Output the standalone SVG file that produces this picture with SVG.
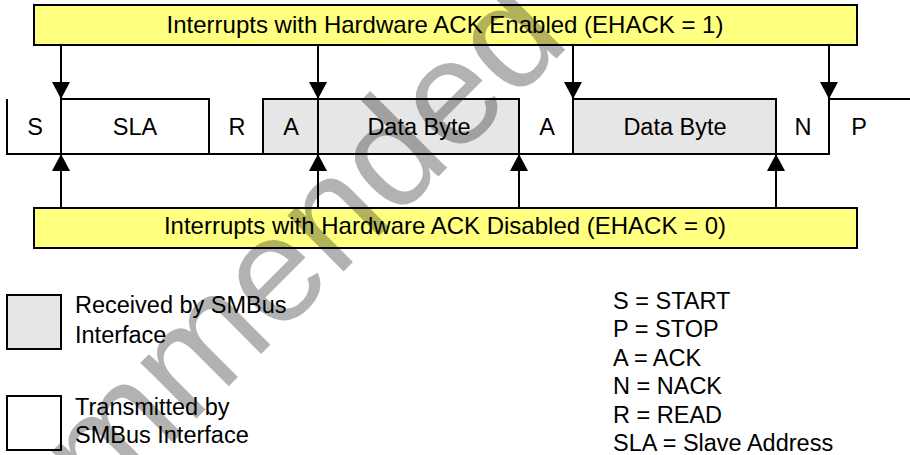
<svg xmlns="http://www.w3.org/2000/svg" width="910" height="455" viewBox="0 0 910 455">
<style>
.yb{fill:#ffff80;stroke:#000;stroke-width:2}
.ln{stroke:#000;stroke-width:2;fill:none}
.gr{fill:#e6e6e6}
.t{font-family:"Liberation Sans",Arial,sans-serif;fill:#000}
.f{font-size:23.5px;text-anchor:middle}
.h{font-size:24px;text-anchor:middle}
.l{font-size:23.5px}
.wm{font-family:"Liberation Sans",Arial,sans-serif;font-size:150px;fill:#000;fill-opacity:0.3}
</style>
<defs>
<marker id="ah" viewBox="0 0 17 18" refX="17" refY="9" markerWidth="17" markerHeight="18" markerUnits="userSpaceOnUse" orient="auto">
<path d="M0,0 L17,9 L0,18 Z" fill="#000"/>
</marker>
</defs>
<rect width="910" height="455" fill="#fff"/>
<g id="irq-enabled">
<rect class="yb" x="34" y="5" width="823" height="40"/>
<text class="t h" x="445" y="33">Interrupts with Hardware ACK Enabled (EHACK = 1)</text>
</g>
<g id="irq-disabled">
<rect class="yb" x="34" y="208" width="823" height="40"/>
<text class="t h" x="445" y="234">Interrupts with Hardware ACK Disabled (EHACK = 0)</text>
</g>
<g id="field-S"><path class="ln" d="M7,99 V154 H61"/><text class="t f" x="35" y="135">S</text></g>
<g id="field-SLA"><path class="ln" d="M61,154 V99 H209 V154 H61"/><text class="t f" x="135" y="135">SLA</text></g>
<g id="field-R"><path class="ln" d="M209,154 H263"/><text class="t f" x="237" y="135">R</text></g>
<g id="field-A1"><rect class="gr" x="263" y="99" width="55" height="55"/><path class="ln" d="M263,154 V99 H318 V154 H263"/><text class="t f" x="291" y="135">A</text></g>
<g id="field-Data1"><rect class="gr" x="318" y="99" width="201" height="55"/><path class="ln" d="M318,154 V99 H519 V154 H318"/><text class="t f" x="419" y="135">Data Byte</text></g>
<g id="field-A2"><path class="ln" d="M519,154 H573"/><text class="t f" x="547" y="135">A</text></g>
<g id="field-Data2"><rect class="gr" x="573" y="99" width="203" height="55"/><path class="ln" d="M573,154 V99 H776 V154 H573"/><text class="t f" x="675" y="135">Data Byte</text></g>
<g id="field-N"><path class="ln" d="M776,154 H829 V99"/><text class="t f" x="803" y="135">N</text></g>
<g id="field-P"><path class="ln" d="M829,99 H910"/><text class="t f" x="859" y="135">P</text></g>
<g id="connectors" class="ln" marker-end="url(#ah)">
<line x1="61" y1="45" x2="61" y2="99"/>
<line x1="318" y1="45" x2="318" y2="99"/>
<line x1="573" y1="45" x2="573" y2="99"/>
<line x1="829" y1="45" x2="829" y2="99"/>
<line x1="61" y1="208" x2="61" y2="154"/>
<line x1="318" y1="208" x2="318" y2="154"/>
<line x1="519" y1="208" x2="519" y2="154"/>
<line x1="776" y1="208" x2="776" y2="154"/>
</g>
<g id="legend-received">
<rect class="gr" x="7" y="295" width="54" height="54" stroke="#000" stroke-width="2"/>
<text class="t l" x="75" y="313">Received by SMBus</text>
<text class="t l" x="75" y="343">Interface</text>
</g>
<g id="legend-transmitted">
<rect x="7" y="396" width="54" height="54" fill="#fff" stroke="#000" stroke-width="2"/>
<text class="t l" x="75" y="415">Transmitted by</text>
<text class="t l" x="75" y="443">SMBus Interface</text>
</g>
<g id="legend-abbrev" class="t l">
<text x="613" y="309">S = START</text>
<text x="613" y="337">P = STOP</text>
<text x="613" y="366">A = ACK</text>
<text x="613" y="394">N = NACK</text>
<text x="613" y="423">R = READ</text>
<text x="613" y="451">SLA = Slave Address</text>
</g>
<text class="wm" transform="translate(-147,762) rotate(-45)">Recommended</text>
</svg>
